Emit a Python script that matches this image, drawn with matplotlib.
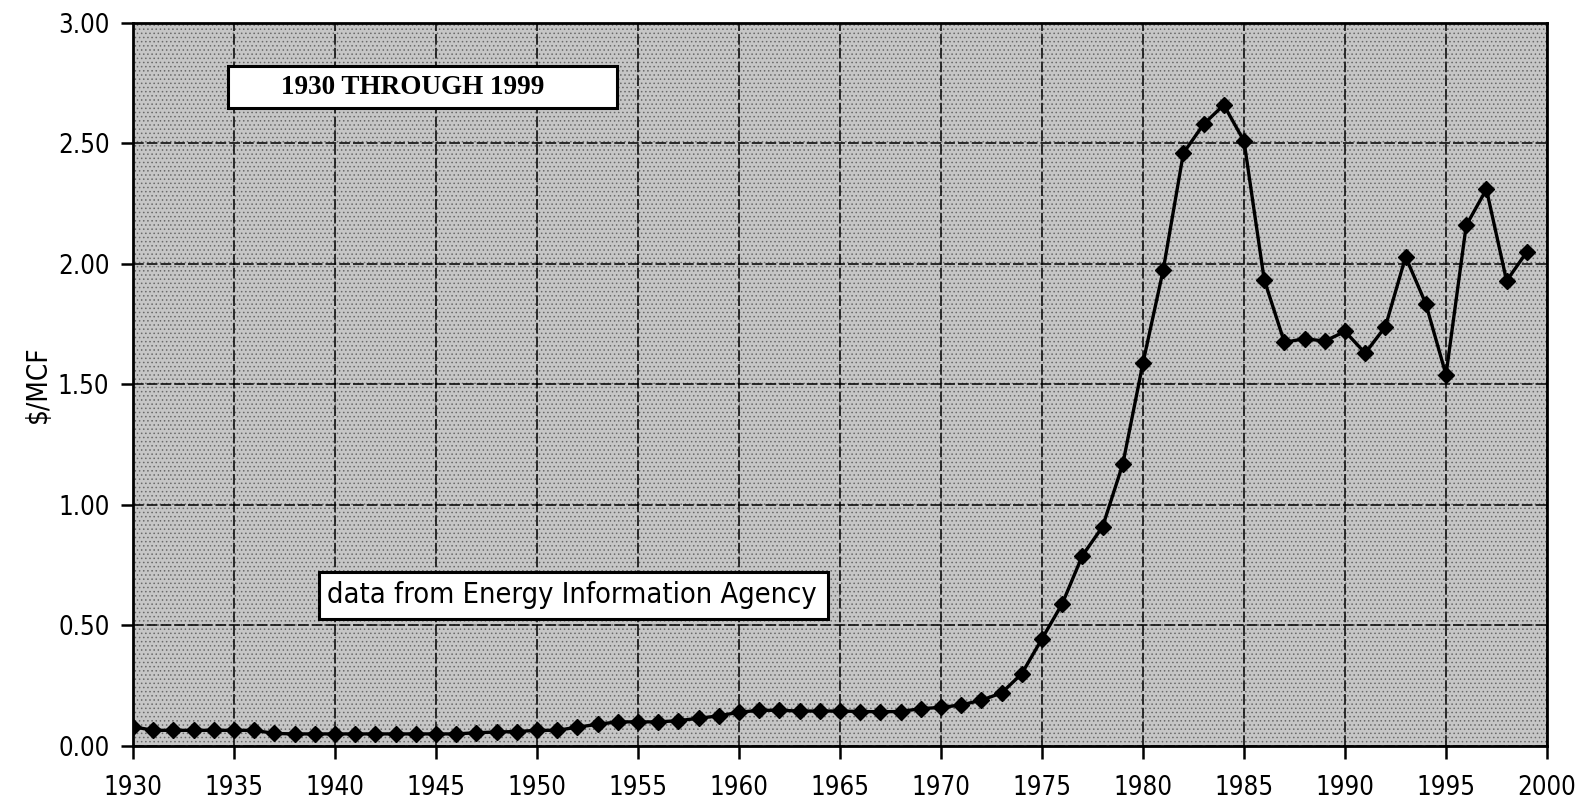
import matplotlib
matplotlib.use("Agg")
import matplotlib.pyplot as plt
from matplotlib.patches import Rectangle

# wellhead gas price, $/MCF
years = list(range(1930, 2000))
price = [0.08, 0.065, 0.065, 0.065, 0.065, 0.065, 0.065, 0.052, 0.05, 0.05,
         0.05, 0.05, 0.05, 0.05, 0.05, 0.05, 0.05, 0.055, 0.058, 0.06,
         0.065, 0.065, 0.078, 0.09, 0.10, 0.10, 0.10, 0.105, 0.115, 0.125,
         0.14, 0.148, 0.148, 0.145, 0.145, 0.145, 0.143, 0.142, 0.143, 0.155,
         0.16, 0.17, 0.19, 0.22, 0.30, 0.445, 0.59, 0.79, 0.91, 1.17,
         1.59, 1.975, 2.46, 2.58, 2.66, 2.51, 1.935, 1.675, 1.69, 1.68,
         1.72, 1.63, 1.74, 2.03, 1.835, 1.54, 2.16, 2.31, 1.93, 2.05]

xticks = list(range(1930, 2001, 5))
yticks = [0.0, 0.5, 1.0, 1.5, 2.0, 2.5, 3.0]
ytick_labels = ["%.2f" % v for v in yticks]

title_note = "1930 THROUGH 1999"
source_note = "data from Energy Information Agency"

plt.rcParams['font.family'] = ['DejaVu Sans']
plt.rcParams['font.stretch'] = 'condensed'
plt.rcParams['hatch.linewidth'] = 0.6

fig = plt.figure(figsize=(15.87, 8.09), dpi=100)
ax = fig.add_axes([0.0838, 0.0779, 0.891, 0.8937])

ax.set_facecolor('#c6c6c6')
ax.patch.set_hatch('....')
ax.patch.set_edgecolor('#6a6a6a')

ax.plot(years, price, color='black', lw=2.4, marker='D', ms=8,
        mfc='black', mec='black', zorder=3)

ax.set_xlim(1930, 2000)
ax.set_ylim(0, 3.0)
ax.set_xticks(xticks)
ax.set_xticklabels([str(x) for x in xticks])
ax.set_yticks(yticks)
ax.set_yticklabels(ytick_labels)
ax.tick_params(axis='both', labelsize=18.5, direction='out', length=9, width=1.8,
               colors='black', pad=8)
ax.tick_params(axis='x', pad=12)

ax.grid(True, color='black', lw=1.1, ls=(0, (7, 2)), zorder=1)
ax.set_axisbelow(True)
for s in ax.spines.values():
    s.set_linewidth(2)
    s.set_color('black')

ax.set_ylabel("$/MCF", fontsize=20, labelpad=4)

# note boxes
ax.add_patch(Rectangle((1934.7, 2.647), 19.26, 0.173, fc='white', ec='black',
                       lw=2.2, zorder=4))
ax.text(1943.85, 2.733, title_note, family='Liberation Serif', weight='bold',
        stretch='normal', fontsize=19.5, ha='center', va='center', zorder=5)

ax.add_patch(Rectangle((1939.2, 0.527), 25.2, 0.195, fc='white', ec='black',
                       lw=2.2, zorder=4))
ax.text(1951.75, 0.625, source_note, fontsize=20.8, ha='center', va='center', zorder=5)

plt.savefig("out.png", dpi=100)
